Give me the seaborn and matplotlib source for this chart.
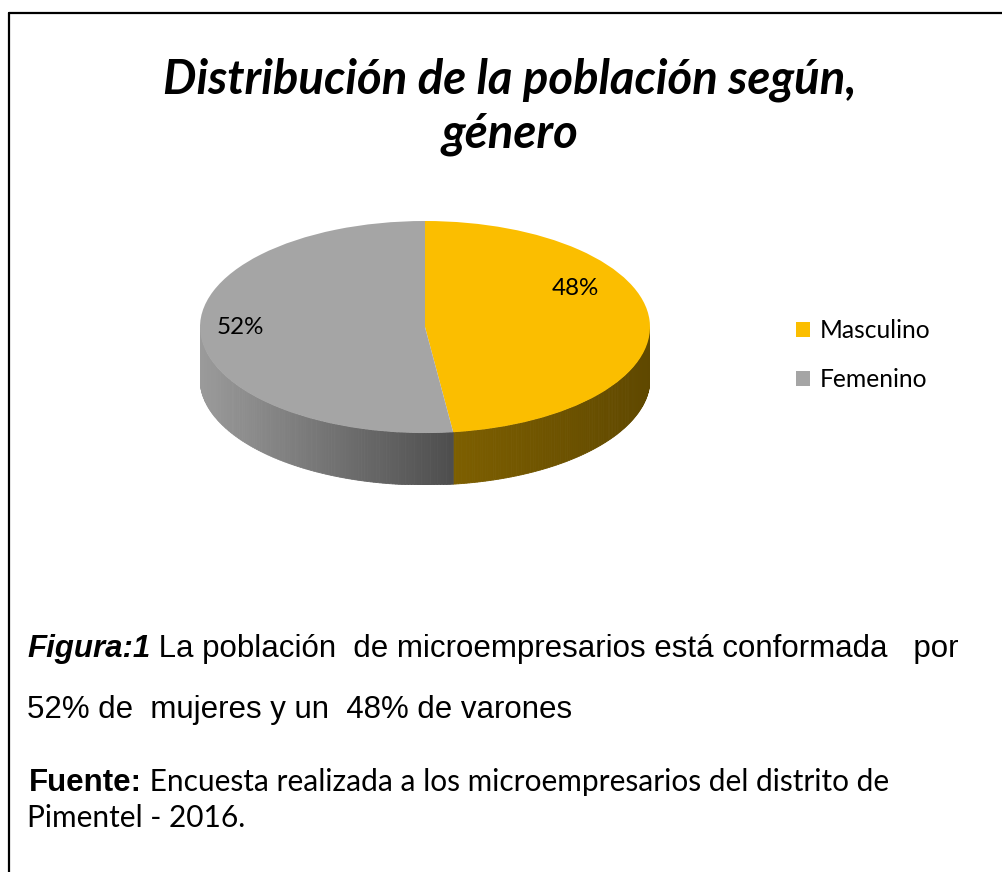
import numpy as np
import matplotlib
matplotlib.use("Agg")
import matplotlib.pyplot as plt
import seaborn as sns
from matplotlib.lines import Line2D

# data
categories = ["Masculino", "Femenino"]
values = [48, 52]
colors = ["#FBBE00", "#A5A5A5"]
# side shading (start/end brightness factor, left to right)
side_shade = [(0.50, 0.38), (0.94, 0.47)]

title = "Distribución de la población según,\ngénero"

sns.set_theme(style="white")
plt.rcParams["font.family"] = ["Lato", "DejaVu Sans"]
plt.rcParams["text.color"] = "black"

W, H = 1003, 872
fig = plt.figure(figsize=(W / 100, H / 100), dpi=100)
fig.patch.set_facecolor("white")

# border (top + left)
fig.add_artist(Line2D([9 / W, 1], [1 - 13.5 / H, 1 - 13.5 / H], color="black", lw=1.6))
fig.add_artist(Line2D([9 / W, 9 / W], [0, 1 - 13.5 / H], color="black", lw=1.6))

# pie axes: ellipse top face with depth
depth = 0.49
ax = fig.add_axes([200 / W, 1 - 485 / H, 450 / W, 264 / H])

# side wall
total = sum(values)
start = 90.0
for val, col, (f0, f1) in zip(values, colors, side_shade):
    end = start - 360.0 * val / total
    rgb = np.array(matplotlib.colors.to_rgb(col))
    for k in (0, -360, 360):
        a0 = max(end, -180 + k)
        a1 = min(start, 0 + k)
        if a1 <= a0:
            continue
        th = np.radians(np.linspace(a0, a1, 120))
        xs = np.cos(th)
        xmin, xmax = xs.min(), xs.max()
        for i in range(len(th) - 1):
            t = ((xs[i] + xs[i + 1]) / 2 - xmin) / max(xmax - xmin, 1e-6)
            c = np.clip(rgb * (f0 + (f1 - f0) * t), 0, 1)
            px = [xs[i], xs[i + 1], xs[i + 1], xs[i]]
            py = [np.sin(th[i]), np.sin(th[i + 1]),
                  np.sin(th[i + 1]) - depth, np.sin(th[i]) - depth]
            ax.fill(px, py, color=c, lw=0.6, ec=c, zorder=0.5)
    start = end

wedges, _ = ax.pie(values, colors=colors, startangle=90, counterclock=False,
                   radius=1, wedgeprops=dict(linewidth=0))
ax.set_aspect("auto")
ax.set_xlim(-1, 1)
ax.set_ylim(-1 - depth, 1)
ax.axis("off")

# percentage labels
ax.text(0.667, 0.36, f"{values[0]}%", fontsize=17.4, ha="center", va="center")
ax.text(-0.82, 0.0, f"{values[1]}%", fontsize=17.4, ha="center", va="center")

# legend
fig.legend(wedges, categories, loc="center left",
           bbox_to_anchor=(796 / W, 1 - 355 / H), frameon=False,
           fontsize=17.7, handlelength=0.55, handleheight=0.55,
           handletextpad=0.4, labelspacing=1.05, borderpad=0, borderaxespad=0)

# title
fig.text(510 / W, 1 - 107 / H, title, ha="center", va="center", fontsize=34,
         fontweight="bold", fontstyle="italic", linespacing=1.25)

# caption with mixed styles
renderer = fig.canvas.get_renderer()


def runs(x0, y0, parts):
    x = x0
    for txt, kw in parts:
        t = fig.text(x / W, 1 - y0 / H, txt, ha="left", va="baseline", **kw)
        bb = t.get_window_extent(renderer)
        x = bb.x1


arial = dict(family=["Liberation Sans", "DejaVu Sans"], fontsize=22.5)
calibri = dict(family=["Lato", "DejaVu Sans"], fontsize=21.5)
runs(27, 657, [("Figura:1", dict(arial, fontweight="bold", fontstyle="italic")),
               (" La población  de microempresarios está conformada   por", arial)])
runs(27, 718, [("52% de  mujeres y un  48% de varones", arial)])
runs(29, 791, [("Fuente:", dict(arial, fontweight="bold")),
               (" Encuesta realizada a los microempresarios del distrito de", calibri)])
runs(27, 827, [("Pimentel - 2016.", calibri)])

fig.savefig("out.png", dpi=100)
